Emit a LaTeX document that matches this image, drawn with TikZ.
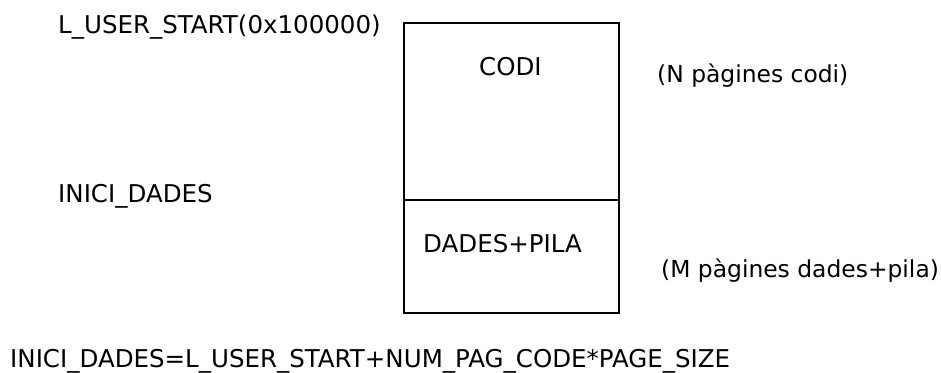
\documentclass[tikz,border=0pt]{standalone}
\usepackage{fontspec}
\setmainfont{DejaVu Sans}
\tikzset{
	lbl/.style={inner sep=0pt, anchor=base west, font=\fontsize{24.5}{29}\selectfont},
	note/.style={lbl, font=\fontsize{23.4}{28}\selectfont},
	seg/.style={draw, line width=1.8pt, inner sep=0pt, anchor=north west, minimum width=215pt}
}
\begin{document}
\begin{tikzpicture}[x=1pt, y=-1pt]
		\useasboundingbox (0,0) rectangle (941,372);
		% Memory block - code and data segments
		\node[seg, minimum height=177pt] (codiseg) at (403,22) {};
		\node[seg, minimum height=113pt] (dadesseg) at (403,199) {};
		\node[lbl] (codi) at (479,75) {CODI};
		\node[lbl] (dades) at (423,252) {DADES+PILA};
		
		% Addresses on the left
		\node[lbl] (start) at (58,33) {L\_USER\_START(0x100000)};
		\node[lbl] (inici) at (58,202) {INICI\_DADES};
		
		% Page counts on the right
		\node[note] (npag) at (657,82) {(N pàgines codi)};
		\node[note] (mpag) at (661,277) {(M pàgines dades+pila)};
		
		% Formula
		\node[lbl] (formula) at (10,367) {INICI\_DADES=L\_USER\_START+NUM\_PAG\_CODE*PAGE\_SIZE};
	\end{tikzpicture}
\end{document}
